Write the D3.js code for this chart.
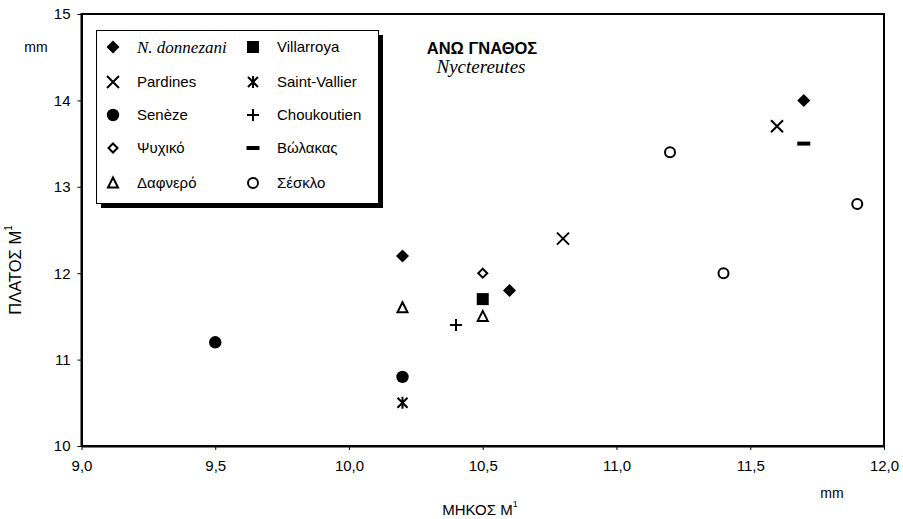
<!DOCTYPE html>
<html>
<head>
<meta charset="utf-8">
<script src="https://cdn.jsdelivr.net/npm/d3@7/dist/d3.min.js"></script>
<style>
  html, body { margin: 0; padding: 0; background: #fff; }
  svg { display: block; font-family: Arial, "Liberation Sans", sans-serif; }
  text { fill: #000; }
</style>
</head>
<body>
<svg id="chart" width="903" height="519"></svg>
<script>
// Upper jaw (M1) measurements of Nyctereutes: length (x) vs width (y), mm
const xTicks = [9.0, 9.5, 10.0, 10.5, 11.0, 11.5, 12.0];
const yTicks = [10, 11, 12, 13, 14, 15];

const donnezani    = [[10.2, 12.2], [10.6, 11.8], [11.7, 14.0]];
const pardines     = [[10.8, 12.4], [11.6, 13.7]];
const seneze       = [[9.5, 11.2], [10.2, 10.8]];
const psychiko     = [[10.5, 12.0]];
const dafnero      = [[10.2, 11.6], [10.5, 11.5]];
const villarroya   = [[10.5, 11.7]];
const saintVallier = [[10.2, 10.5]];
const choukoutien  = [[10.4, 11.4]];
const volakas      = [[11.7, 13.5]];
const sesklo       = [[11.2, 13.4], [11.4, 12.0], [11.9, 12.8]];

const legendLeft  = ["N. donnezani", "Pardines", "Senèze", "Ψυχικό", "Δαφνερό"];
const legendRight = ["Villarroya", "Saint-Vallier", "Choukoutien", "Βώλακας", "Σέσκλο"];

const series = [
  { name: "N. donnezani",  shape: "diamondFill", data: donnezani },
  { name: "Pardines",      shape: "cross",       data: pardines },
  { name: "Senèze",        shape: "circleFill",  data: seneze },
  { name: "Ψυχικό",        shape: "diamondOpen", data: psychiko },
  { name: "Δαφνερό",       shape: "triangle",    data: dafnero },
  { name: "Villarroya",    shape: "square",      data: villarroya },
  { name: "Saint-Vallier", shape: "star",        data: saintVallier },
  { name: "Choukoutien",   shape: "plus",        data: choukoutien },
  { name: "Βώλακας",       shape: "dash",        data: volakas },
  { name: "Σέσκλο",        shape: "circleOpen",  data: sesklo }
];

const SANS  = "Arial, 'Liberation Sans', sans-serif";
const SERIF = "'Liberation Serif', 'Times New Roman', Times, serif";

const svg = d3.select("#chart");
const x = d3.scaleLinear().domain([9, 12]).range([81.5, 884]);
const y = d3.scaleLinear().domain([10, 15]).range([446, 14]);

const commaLocale = d3.formatLocale({ decimal: ",", thousands: ".", grouping: [3], currency: ["", ""] });
const fmtX = commaLocale.format(".1f");

// plot frame
svg.append("rect")
  .attr("x", x(9)).attr("y", y(15))
  .attr("width", x(12) - x(9)).attr("height", y(10) - y(15))
  .attr("fill", "none").attr("stroke", "#000").attr("stroke-width", 2);

// axes
const gx = svg.append("g").attr("transform", `translate(0,${y(10)})`)
  .call(d3.axisBottom(x).tickValues(xTicks).tickFormat(fmtX).tickSize(4).tickSizeOuter(0));
const gy = svg.append("g").attr("transform", `translate(${x(9)},0)`)
  .call(d3.axisLeft(y).tickValues(yTicks).tickFormat(d3.format("d")).tickSize(4).tickSizeOuter(0));
[gx, gy].forEach(g => {
  g.attr("font-family", null).attr("font-size", null);
  g.select(".domain").attr("stroke", "#000").attr("stroke-width", 2);
  g.selectAll(".tick line").attr("stroke", "#000").attr("stroke-width", 1);
  g.selectAll(".tick text").style("font-family", SANS).style("font-size", "15px").attr("fill", "#000");
});
gx.selectAll(".tick text").attr("y", 14).attr("dy", "0.71em");
gy.selectAll(".tick text").attr("x", -11);

// marker drawing
function marker(g, shape, cx, cy) {
  const s = g.append("g").attr("transform", `translate(${cx},${cy})`);
  switch (shape) {
    case "diamondFill":
      s.append("path").attr("d", "M0,-6.5L6.5,0L0,6.5L-6.5,0Z").attr("fill", "#000");
      break;
    case "diamondOpen":
      s.append("path").attr("d", "M0,-4.5L4.5,0L0,4.5L-4.5,0Z")
        .attr("fill", "#fff").attr("stroke", "#000").attr("stroke-width", 2);
      break;
    case "circleFill":
      s.append("circle").attr("r", 6.2).attr("fill", "#000");
      break;
    case "circleOpen":
      s.append("circle").attr("r", 5).attr("fill", "#fff")
        .attr("stroke", "#000").attr("stroke-width", 2);
      break;
    case "square":
      s.append("rect").attr("x", -6).attr("y", -6).attr("width", 12).attr("height", 12).attr("fill", "#000");
      break;
    case "triangle":
      s.append("path").attr("d", "M0,-5.5L5,4.5L-5,4.5Z")
        .attr("fill", "#fff").attr("stroke", "#000").attr("stroke-width", 2).attr("stroke-linejoin", "miter");
      break;
    case "cross":
      s.append("path").attr("d", "M-6,-6L6,6M6,-6L-6,6")
        .attr("stroke", "#000").attr("stroke-width", 2).attr("fill", "none");
      break;
    case "plus":
      s.append("path").attr("d", "M-6,0L6,0M0,-6L0,6")
        .attr("stroke", "#000").attr("stroke-width", 2).attr("fill", "none");
      break;
    case "star":
      s.append("path").attr("d", "M-5,-5L5,5M5,-5L-5,5M0,-6L0,6")
        .attr("stroke", "#000").attr("stroke-width", 2).attr("fill", "none");
      break;
    case "dash":
      s.append("rect").attr("x", -6.5).attr("y", -2).attr("width", 13).attr("height", 4).attr("fill", "#000");
      break;
  }
}

// data points
const pts = svg.append("g");
series.forEach(sr => sr.data.forEach(d => marker(pts, sr.shape, x(d[0]), y(d[1]))));

// legend with drop shadow
const lg = svg.append("g");
lg.append("rect").attr("x", 101).attr("y", 35).attr("width", 282).attr("height", 173).attr("fill", "#000");
lg.append("rect").attr("x", 96.5).attr("y", 30.5).attr("width", 282).attr("height", 173)
  .attr("fill", "#fff").attr("stroke", "#000").attr("stroke-width", 1);
const rowY = [47, 82, 115, 148, 183];
const shapeOf = name => series.find(s => s.name === name).shape;
legendLeft.forEach((name, i) => {
  marker(lg, shapeOf(name), 113, rowY[i]);
  const t = lg.append("text").attr("x", 137).attr("y", rowY[i]).attr("dy", "0.35em")
    .style("font-family", SANS).style("font-size", "15px").text(name);
  if (i === 0) t.style("font-family", SERIF).style("font-style", "italic").style("font-size", "17px");
});
legendRight.forEach((name, i) => {
  marker(lg, shapeOf(name), 253, rowY[i]);
  lg.append("text").attr("x", 277).attr("y", rowY[i]).attr("dy", "0.35em")
    .style("font-family", SANS).style("font-size", "15px").text(name);
});

// chart title
svg.append("text").attr("x", 482).attr("y", 54).attr("text-anchor", "middle")
  .style("font-family", SANS).style("font-size", "16.5px").style("font-weight", "bold").text("ΑΝΩ ΓΝΑΘΟΣ");
svg.append("text").attr("x", 481).attr("y", 73).attr("text-anchor", "middle")
  .style("font-family", SERIF).style("font-style", "italic").style("font-size", "19px").text("Nyctereutes");

// unit labels
svg.append("text").attr("x", 36).attr("y", 47).attr("dy", "0.35em").attr("text-anchor", "middle")
  .style("font-size", "14px").text("mm");
svg.append("text").attr("x", 832).attr("y", 493).attr("dy", "0.35em").attr("text-anchor", "middle")
  .style("font-size", "14px").text("mm");

// axis titles
const xt = svg.append("text").attr("x", 480).attr("y", 510).attr("dy", "0.35em").attr("text-anchor", "middle")
  .style("font-size", "15px");
xt.append("tspan").text("ΜΗΚΟΣ M");
xt.append("tspan").style("font-size", "9px").attr("dy", "-0.9em").text("1");

const yt = svg.append("text").attr("transform", "translate(15,270) rotate(-90)").attr("dy", "0.35em")
  .attr("text-anchor", "middle").style("font-size", "16.5px");
yt.append("tspan").text("ΠΛΑΤΟΣ M");
yt.append("tspan").style("font-size", "10px").attr("dy", "-0.9em").text("1");
</script>
</body>
</html>
